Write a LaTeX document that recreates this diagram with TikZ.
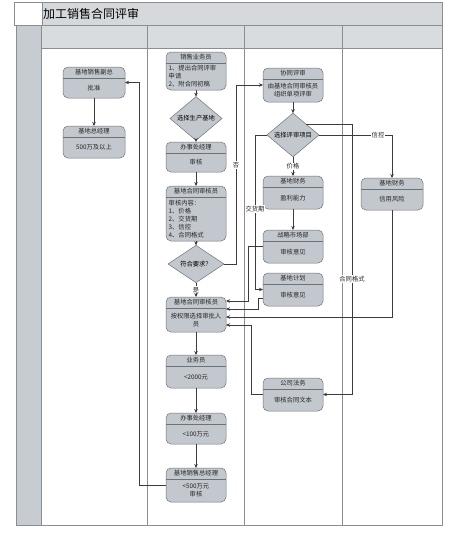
\documentclass[tikz,border=0pt]{standalone}
\usepackage{fontspec}
\newfontfamily\cjk{Noto Sans CJK SC}
\usetikzlibrary{shapes.geometric,arrows.meta,calc}
\definecolor{titlebg}{HTML}{D5D9DC}
\definecolor{headbg}{HTML}{D8DCDF}
\definecolor{stripbg}{HTML}{C6CCD2}
\definecolor{nodefill}{HTML}{C3C8CE}
\definecolor{nodeline}{HTML}{6E7276}
\definecolor{framec}{HTML}{8A8E92}
\definecolor{linec}{HTML}{3C3C3C}
\tikzset{
  txt/.style={font=\cjk\fontsize{6.3}{8}\selectfont, inner sep=0.5pt, text=black!85},
  lanebox/.style={draw=nodeline, fill=nodefill, rounded corners=5pt, line width=0.5pt, outer sep=0pt, inner sep=0pt},
  sepline/.style={draw=nodeline, line width=0.4pt},
  dia/.style={diamond, draw=nodeline, fill=nodefill, line width=0.5pt, inner sep=0pt, outer sep=0pt, font=\cjk\fontsize{6.3}{8}\selectfont},
  arr/.style={draw=linec, line width=0.5pt, -{Stealth[length=4pt,width=3.5pt]}},
  lbl/.style={txt, fill=white, inner sep=0.8pt},
  frame/.style={draw=framec, line width=0.5pt}
}
% name, cx, top, bottom, width, header, body
\newcommand\lbox[7]{%
  \node[lanebox, minimum width=#5pt, minimum height=#4pt-#3pt, anchor=north] (#1) at (#2,#3) {};
  \draw[sepline] ($(#1.north west)+(0,11)$) -- ($(#1.north east)+(0,11)$);
  \node[txt] (#1h) at ($(#1.north)+(0,5.5)$) {#6};
  \node[txt, align=center] (#1b) at (#2,{(#3+11+#4)/2}) {#7};
}
\begin{document}
\begin{tikzpicture}[x=1pt,y=-1pt]
\useasboundingbox (0,0) rectangle (460,547);
% ---- frame ----
\fill[titlebg] (42,2) rectangle (442,25);
\fill[stripbg] (16,25) rectangle (41,525);
\fill[headbg] (41,25) rectangle (442,48);
\draw[frame] (14,2) rectangle (442,25);
\draw[frame, fill=white] (14,2) rectangle (42,25);
\node[font=\cjk\fontsize{12}{14}\selectfont, anchor=west, inner sep=0pt] (title) at (43,13.5) {加工销售合同评审};
\draw[frame] (16,25) rectangle (442,525);
\draw[frame] (41,25) -- (41,525);
\draw[frame] (147,25) -- (147,525);
\draw[frame] (244,25) -- (244,525);
\draw[frame] (342,25) -- (342,525);
\draw[frame] (41,48) -- (442,48);
% ---- column 1 ----
\lbox{fz}{94}{67}{98}{62}{基地销售副总}{批准}
\lbox{zjl}{94}{126}{158}{62}{基地总经理}{500万及以上}
% ---- column 2 ----
\lbox{ywy}{196}{52}{90}{60}{销售业务员}{}
\node[txt, align=left, anchor=north west] (ywyt) at (168,64.5) {1、提出合同评审\\申请\\2、附合同初稿};
\node[dia, minimum width=52pt, minimum height=37pt] (d1) at (196,118.5) {选择生产基地};
\lbox{bsc}{196}{142}{172}{60}{办事处经理}{审核}
\lbox{shy}{196}{186}{241}{60}{基地合同审核员}{}
\node[txt, align=left, anchor=north west] (shyt) at (168,199) {审核内容：\\1、价格\\2、交货期\\3、信控\\4、合同格式};
\node[dia, minimum width=56pt, minimum height=34pt] (d2) at (196,264) {符合要求？};
\lbox{shyb}{196}{297}{332}{60}{基地合同审核员}{按权限选择审批人\\员}
\lbox{yw}{196}{355}{388}{60}{业务员}{<2000元}
\lbox{bscb}{196}{413}{444}{60}{办事处经理}{<100万元}
\lbox{xz}{196}{468}{502}{60}{基地销售总经理}{<500万元\\审核}
% ---- column 3 ----
\lbox{xt}{293}{68}{102}{60}{协同评审}{由基地合同审核员\\组织单项评审}
\node[dia, minimum width=52pt, minimum height=34pt] (d3) at (293,135) {选择评审项目};
\lbox{cwa}{293}{176}{209}{60}{基地财务}{盈利能力}
\lbox{zl}{293}{230}{263}{60}{战略市场部}{审核意见}
\lbox{jh}{293}{273}{306}{60}{基地计划}{审核意见}
\lbox{fw}{293}{378}{411}{60}{公司法务}{审核合同文本}
% ---- column 4 ----
\lbox{cwb}{392}{178}{210}{62}{基地财务}{信用风险}
% ---- connectors ----
\draw[arr] (fz) -- (zjl);
\draw[arr] (xz.west) -| ($(fz.east)+(14,0)$) -- (fz.east);
\draw[arr] (ywy) -- (d1);
\draw[arr] (d1) -- (bsc);
\draw[arr] (bsc) -- (shy);
\draw[arr] (shy) -- (d2);
\draw[arr] (d2) -- node[lbl] (lshi) {是} (shyb);
\draw[arr] (shyb) -- (yw);
\draw[arr] (yw) -- (bscb);
\draw[arr] (bscb) -- (xz);
\draw[arr] (d2.east) -| ($(xt.west)+(-27,0)$) -- (xt.west);
\node[lbl] (lfou) at (236,165) {否};
\draw[arr] (xt) -- (d3);
\draw[arr] (d3) -- node[lbl] (ljg) {价格} (cwa);
\draw[arr] (d3.east) -| (cwb.north);
\node[lbl] (lxk) at (378,135) {信控};
\draw[arr] (d3.west) -| ($(jh.west)+(-8,0)$) -- (jh.west);
\node[lbl] (ljh) at (255,209) {交货期};
\draw[arr] (d3.north east) -| ($(fw.east)+(29,0)$) -- (fw.east);
\node[lbl] (lht) at (352,279) {合同格式};
\draw[arr] (cwa) -- (zl);
% returns into shyb
\coordinate (r1) at (226,301);
\coordinate (r2) at (226,309);
\coordinate (r3) at (226,317);
\coordinate (r4) at (226,325);
\draw[arr] (zl.west) -- (248,246.5) -- (248,301) -- (r1);
\draw[arr] ($(jh.west)+(0,9)$) -- (258,298.5) -- (258,309) -- (r2);
\draw[arr] (cwb.south) -- (392,317) -- (r3);
\draw[arr] (fw.west) -- (251,394.5) -- (251,325) -- (r4);
\end{tikzpicture}
\end{document}
